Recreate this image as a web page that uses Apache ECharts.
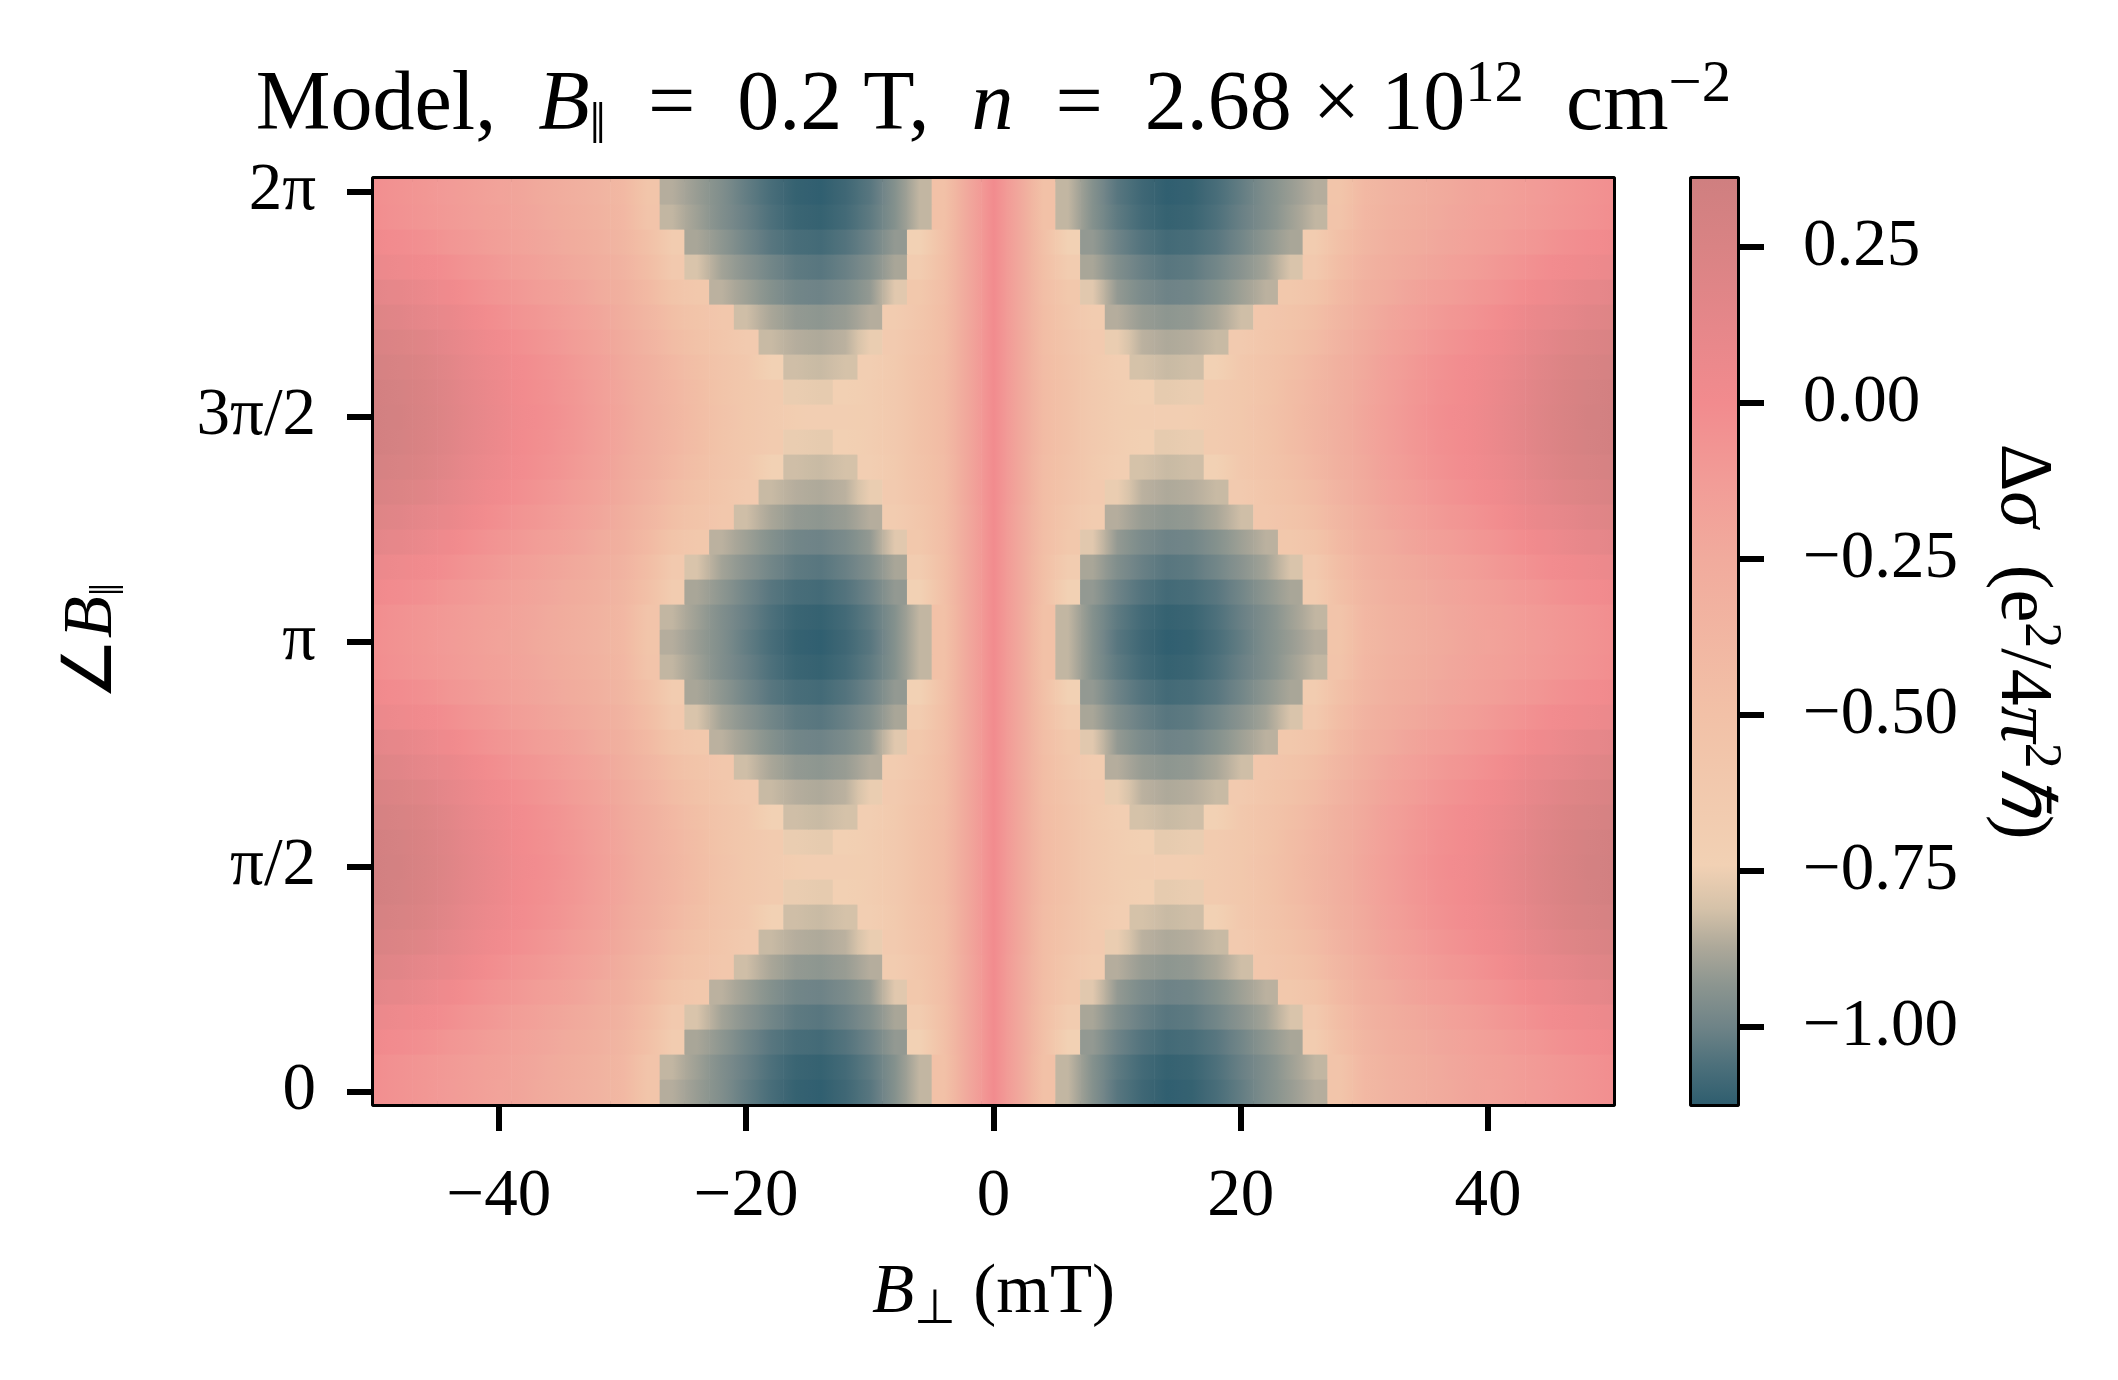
<!DOCTYPE html>
<html>
<head>
<meta charset="utf-8">
<script src="https://cdn.jsdelivr.net/npm/echarts@6/dist/echarts.min.js"></script>
<style>
  html, body { margin: 0; padding: 0; background: #fff; }
  #chart { width: 2118px; height: 1380px; }
</style>
</head>
<body>
<div id="chart"></div>
<script>
// B_perp cell centres (mT)
const fieldB = [-50,-48,-46,-44,-42,-40,-38,-36,-34,-32,-30,-28,-26,-24,-22,-20,-18,-16,-14,-12,-10,-8,-6,-4,-2,
  0,2,4,6,8,10,12,14,16,18,20,22,24,26,28,30,32,34,36,38,40,42,44,46,48,50];

// in-plane field angle, degrees (row centres)
const angles = [0,10,20,30,40,50,60,70,80,90,100,110,120,130,140,150,160,170,180,
  190,200,210,220,230,240,250,260,270,280,290,300,310,320,330,340,350,360];

// delta sigma, one row per angle
const r0 = [-0.03,-0.06,-0.09,-0.12,-0.15,-0.18,-0.21,-0.25,-0.29,-0.34,-0.40,-0.56,-0.86,-0.91,-0.96,-1.02,-1.07,-1.11,-1.12,-1.09,-1.04,-0.95,-0.84,-0.50,-0.22,
  0.00,-0.22,-0.50,-0.84,-0.95,-1.04,-1.09,-1.12,-1.11,-1.07,-1.02,-0.96,-0.91,-0.86,-0.56,-0.40,-0.34,-0.29,-0.25,-0.21,-0.18,-0.15,-0.12,-0.09,-0.06,-0.03];
const r10 = [-0.02,-0.05,-0.08,-0.11,-0.14,-0.17,-0.20,-0.24,-0.28,-0.33,-0.39,-0.55,-0.84,-0.90,-0.96,-1.01,-1.06,-1.10,-1.11,-1.08,-1.03,-0.95,-0.84,-0.50,-0.22,
  0.00,-0.22,-0.50,-0.84,-0.95,-1.03,-1.08,-1.11,-1.10,-1.06,-1.01,-0.96,-0.90,-0.84,-0.55,-0.39,-0.33,-0.28,-0.24,-0.20,-0.17,-0.14,-0.11,-0.08,-0.05,-0.02];
const r20 = [0.02,-0.01,-0.04,-0.08,-0.11,-0.15,-0.18,-0.22,-0.26,-0.31,-0.37,-0.49,-0.67,-0.88,-0.93,-0.99,-1.04,-1.07,-1.08,-1.05,-1.00,-0.92,-0.74,-0.49,-0.22,
  0.00,-0.22,-0.49,-0.74,-0.92,-1.00,-1.05,-1.08,-1.07,-1.04,-0.99,-0.93,-0.88,-0.67,-0.49,-0.37,-0.31,-0.26,-0.22,-0.18,-0.15,-0.11,-0.08,-0.04,-0.01,0.02];
const r30 = [0.07,0.04,0.01,-0.03,-0.07,-0.11,-0.15,-0.19,-0.23,-0.28,-0.34,-0.45,-0.62,-0.80,-0.89,-0.94,-0.99,-1.03,-1.04,-1.01,-0.96,-0.88,-0.66,-0.48,-0.22,
  0.00,-0.22,-0.48,-0.66,-0.88,-0.96,-1.01,-1.04,-1.03,-0.99,-0.94,-0.89,-0.80,-0.62,-0.45,-0.34,-0.28,-0.23,-0.19,-0.15,-0.11,-0.07,-0.03,0.01,0.04,0.07];
const r40 = [0.14,0.11,0.07,0.02,-0.03,-0.07,-0.11,-0.15,-0.19,-0.25,-0.31,-0.41,-0.54,-0.60,-0.85,-0.90,-0.95,-0.99,-1.00,-0.97,-0.92,-0.78,-0.60,-0.47,-0.22,
  0.00,-0.22,-0.47,-0.60,-0.78,-0.92,-0.97,-1.00,-0.99,-0.95,-0.90,-0.85,-0.60,-0.54,-0.41,-0.31,-0.25,-0.19,-0.15,-0.11,-0.07,-0.03,0.02,0.07,0.11,0.14];
const r50 = [0.20,0.17,0.12,0.08,0.02,-0.03,-0.07,-0.11,-0.16,-0.21,-0.28,-0.37,-0.48,-0.54,-0.59,-0.82,-0.88,-0.92,-0.93,-0.91,-0.86,-0.67,-0.57,-0.46,-0.22,
  0.00,-0.22,-0.46,-0.57,-0.67,-0.86,-0.91,-0.93,-0.92,-0.88,-0.82,-0.59,-0.54,-0.48,-0.37,-0.28,-0.21,-0.16,-0.11,-0.07,-0.03,0.02,0.08,0.12,0.17,0.20];
const r60 = [0.25,0.22,0.18,0.12,0.06,0.01,-0.04,-0.08,-0.13,-0.18,-0.25,-0.34,-0.44,-0.51,-0.57,-0.64,-0.83,-0.86,-0.87,-0.85,-0.76,-0.64,-0.55,-0.45,-0.21,
  0.00,-0.21,-0.45,-0.55,-0.64,-0.76,-0.85,-0.87,-0.86,-0.83,-0.64,-0.57,-0.51,-0.44,-0.34,-0.25,-0.18,-0.13,-0.08,-0.04,0.01,0.06,0.12,0.18,0.22,0.25];
const r70 = [0.29,0.26,0.22,0.16,0.09,0.04,-0.01,-0.05,-0.10,-0.16,-0.23,-0.31,-0.40,-0.48,-0.55,-0.61,-0.74,-0.82,-0.83,-0.81,-0.70,-0.63,-0.53,-0.44,-0.21,
  0.00,-0.21,-0.44,-0.53,-0.63,-0.70,-0.81,-0.83,-0.82,-0.74,-0.61,-0.55,-0.48,-0.40,-0.31,-0.23,-0.16,-0.10,-0.05,-0.01,0.04,0.09,0.16,0.22,0.26,0.29];
const r80 = [0.32,0.29,0.24,0.18,0.11,0.05,0.00,-0.04,-0.09,-0.15,-0.22,-0.30,-0.38,-0.46,-0.54,-0.60,-0.65,-0.76,-0.77,-0.73,-0.68,-0.62,-0.52,-0.43,-0.21,
  0.00,-0.21,-0.43,-0.52,-0.62,-0.68,-0.73,-0.77,-0.76,-0.65,-0.60,-0.54,-0.46,-0.38,-0.30,-0.22,-0.15,-0.09,-0.04,0.00,0.05,0.11,0.18,0.24,0.29,0.32];
const r90 = [0.33,0.30,0.25,0.19,0.12,0.06,0.01,-0.03,-0.08,-0.14,-0.21,-0.29,-0.37,-0.45,-0.53,-0.60,-0.65,-0.69,-0.70,-0.70,-0.68,-0.62,-0.52,-0.43,-0.21,
  0.00,-0.21,-0.43,-0.52,-0.62,-0.68,-0.70,-0.70,-0.69,-0.65,-0.60,-0.53,-0.45,-0.37,-0.29,-0.21,-0.14,-0.08,-0.03,0.01,0.06,0.12,0.19,0.25,0.30,0.33];

// rows as they appear from 0 to 2pi (the map repeats every pi)
const angleRows = [r0,r10,r20,r30,r40,r50,r60,r70,r80,r90,r80,r70,r60,r50,r40,r30,r20,r10,
  r0,r10,r20,r30,r40,r50,r60,r70,r80,r90,r80,r70,r60,r50,r40,r30,r20,r10,r0];

const yTicks = [0, 90, 180, 270, 360];
const yTickLabels = ['0', 'π/2', 'π', '3π/2', '2π'];
const xTicks = [-40, -20, 0, 20, 40];
const cbTicks = [-1, -0.75, -0.5, -0.25, 0, 0.25];
const cbMin = -1.123, cbMax = 0.359;

// colormap stops [value, colour]
const cmapStops = [
  [-1.123, '#2f5e6f'], [-1.06, '#4d707b'], [-1.0, '#6e8387'], [-0.93, '#8d9690'],
  [-0.87, '#aea99a'], [-0.81, '#d5c2a9'], [-0.74, '#f2d1b4'], [-0.5, '#f2c1a7'],
  [-0.25, '#f1ab9d'], [-0.125, '#f29c97'], [0, '#f28b8e'], [0.12, '#e6878a'],
  [0.25, '#d98384'], [0.359, '#cf7f80']
];

function hexToRgb(h) {
  return [parseInt(h.slice(1, 3), 16), parseInt(h.slice(3, 5), 16), parseInt(h.slice(5, 7), 16)];
}
function colorAt(v) {
  if (v <= cmapStops[0][0]) return cmapStops[0][1];
  for (let i = 1; i < cmapStops.length; i++) {
    if (v <= cmapStops[i][0]) {
      const a = cmapStops[i - 1], b = cmapStops[i];
      const t = (v - a[0]) / (b[0] - a[0]);
      const ca = hexToRgb(a[1]), cb = hexToRgb(b[1]);
      const c = ca.map((x, k) => Math.round(x + (cb[k] - x) * t));
      return 'rgb(' + c.join(',') + ')';
    }
  }
  return cmapStops[cmapStops.length - 1][1];
}

const cells = [];
angles.forEach((a, i) => {
  fieldB.forEach((b, j) => cells.push([b, a, angleRows[i][j], i, j]));
});

// colour at the shared edge of two neighbouring cells;
// the dips have a hard rim, so keep the step where a cell crosses it
const RIM = -0.75;
function edgeColor(v, vn) {
  if (vn === undefined) return colorAt(v);
  if ((v <= RIM) !== (vn <= RIM) && Math.abs(v - vn) > 0.03) return colorAt(v);
  return colorAt((v + vn) / 2);
}

const FONT = 'Liberation Serif';
const ink = '#000';
const lw = 6;
const base = { fontFamily: FONT, color: ink };
const mathRich = (size) => ({
  t: { ...base, fontSize: size, lineHeight: size * 1.2 },
  i: { ...base, fontSize: size, fontStyle: 'italic', lineHeight: size * 1.2 },
  sub: { ...base, fontSize: size * 0.7, lineHeight: size * 0.55, verticalAlign: 'bottom' },
  sup: { ...base, fontSize: size * 0.7, lineHeight: size * 0.52, verticalAlign: 'top' }
});

const borderOnly = {
  axisLine: { show: true, onZero: false, lineStyle: { color: ink, width: lw } },
  axisTick: { show: false }, axisLabel: { show: false }, splitLine: { show: false }
};

const chart = echarts.init(document.getElementById('chart'));
chart.setOption({
  animation: false,
  backgroundColor: '#fff',
  grid: [
    { left: 374, top: 179, width: 1239, height: 925, outerBoundsMode: 'none', containLabel: false },
    { left: 1692, top: 179, width: 45, height: 925, outerBoundsMode: 'none', containLabel: false }
  ],
  xAxis: [
    {
      gridIndex: 0, type: 'value', min: -50.1, max: 50.1, position: 'bottom',
      axisLine: { show: true, onZero: false, lineStyle: { color: ink, width: lw } },
      axisTick: { show: true, customValues: xTicks, length: 27, lineStyle: { color: ink, width: lw } },
      axisLabel: {
        customValues: xTicks, margin: 60, fontFamily: FONT, fontSize: 67, color: ink,
        formatter: v => (v < 0 ? '−' : '') + Math.abs(v)
      },
      splitLine: { show: false },
      name: '{i|B}{sub|⊥}{t| (mT)}', nameLocation: 'middle', nameGap: 148, nameMoveOverlap: false,
      nameTextStyle: { rich: mathRich(69) }
    },
    {
      gridIndex: 0, type: 'value', min: -50.1, max: 50.1, position: 'top', ...borderOnly,
      name: '{t|Model,  }{i|B}{sub|‖}{t|  =  0.2 T,  }{i|n}{t|  =  2.68 × 10}{sup|12}{t|  cm}{sup|−2}',
      nameLocation: 'middle', nameGap: 22, nameMoveOverlap: false,
      nameTextStyle: { rich: mathRich(84) }
    },
    { gridIndex: 1, type: 'value', min: 0, max: 1, position: 'bottom', ...borderOnly },
    { gridIndex: 1, type: 'value', min: 0, max: 1, position: 'top', ...borderOnly }
  ],
  yAxis: [
    {
      gridIndex: 0, type: 'value', min: -5, max: 365, position: 'left',
      axisLine: { show: true, onZero: false, lineStyle: { color: ink, width: lw } },
      axisTick: { show: true, customValues: yTicks, length: 27, lineStyle: { color: ink, width: lw } },
      axisLabel: {
        customValues: yTicks, margin: 58, fontFamily: FONT, fontSize: 67, color: ink,
        formatter: v => yTickLabels[yTicks.indexOf(v)]
      },
      splitLine: { show: false },
      name: '{t|∠}{i|B}{sub|‖}', nameLocation: 'middle', nameRotate: 90, nameGap: 240, nameMoveOverlap: false,
      nameTextStyle: { rich: mathRich(69) }
    },
    { gridIndex: 0, type: 'value', min: -5, max: 365, position: 'right', ...borderOnly },
    {
      gridIndex: 1, type: 'value', min: cbMin, max: cbMax, position: 'right',
      axisLine: { show: true, onZero: false, lineStyle: { color: ink, width: lw } },
      axisTick: { show: true, customValues: cbTicks, length: 27, lineStyle: { color: ink, width: lw } },
      axisLabel: {
        customValues: cbTicks, margin: 66, fontFamily: FONT, fontSize: 67, color: ink,
        formatter: v => (v < 0 ? '−' : '') + Math.abs(v).toFixed(2)
      },
      splitLine: { show: false },
      name: '{t|Δ}{i|σ}{t|  (e}{sup|2}{t|/4}{i|π}{sup|2}{i|ℏ}{t|)}',
      nameLocation: 'middle', nameRotate: -90, nameGap: 240, nameMoveOverlap: false,
      nameTextStyle: { rich: mathRich(74) }
    },
    { gridIndex: 1, type: 'value', min: cbMin, max: cbMax, position: 'left', ...borderOnly }
  ],
  series: [
    {
      type: 'custom', xAxisIndex: 0, yAxisIndex: 0, clip: true,
      encode: { x: 0, y: 1 },
      data: cells,
      renderItem: (params, api) => {
        const b = api.value(0), a = api.value(1), v = api.value(2);
        const i = api.value(3), j = api.value(4);
        const row = angleRows[i];
        const p0 = api.coord([b - 1, a + 5]);
        const p1 = api.coord([b + 1, a - 5]);
        const fill = new echarts.graphic.LinearGradient(0, 0, 1, 0, [
          { offset: 0, color: edgeColor(v, row[j - 1]) },
          { offset: 0.5, color: colorAt(v) },
          { offset: 1, color: edgeColor(v, row[j + 1]) }
        ]);
        return {
          type: 'rect',
          shape: { x: p0[0], y: p0[1], width: p1[0] - p0[0] + 0.6, height: p1[1] - p0[1] + 0.6 },
          style: { fill: fill }
        };
      }
    },
    {
      type: 'custom', xAxisIndex: 2, yAxisIndex: 2, clip: true,
      data: [[0]],
      renderItem: (params, api) => {
        const p0 = api.coord([0, cbMax]);
        const p1 = api.coord([1, cbMin]);
        const stops = cmapStops.map(s => ({ offset: (cbMax - s[0]) / (cbMax - cbMin), color: s[1] }))
          .sort((u, w) => u.offset - w.offset);
        return {
          type: 'rect',
          shape: { x: p0[0], y: p0[1], width: p1[0] - p0[0], height: p1[1] - p0[1] },
          style: { fill: new echarts.graphic.LinearGradient(0, 0, 0, 1, stops) }
        };
      }
    }
  ]
});
</script>
</body>
</html>
